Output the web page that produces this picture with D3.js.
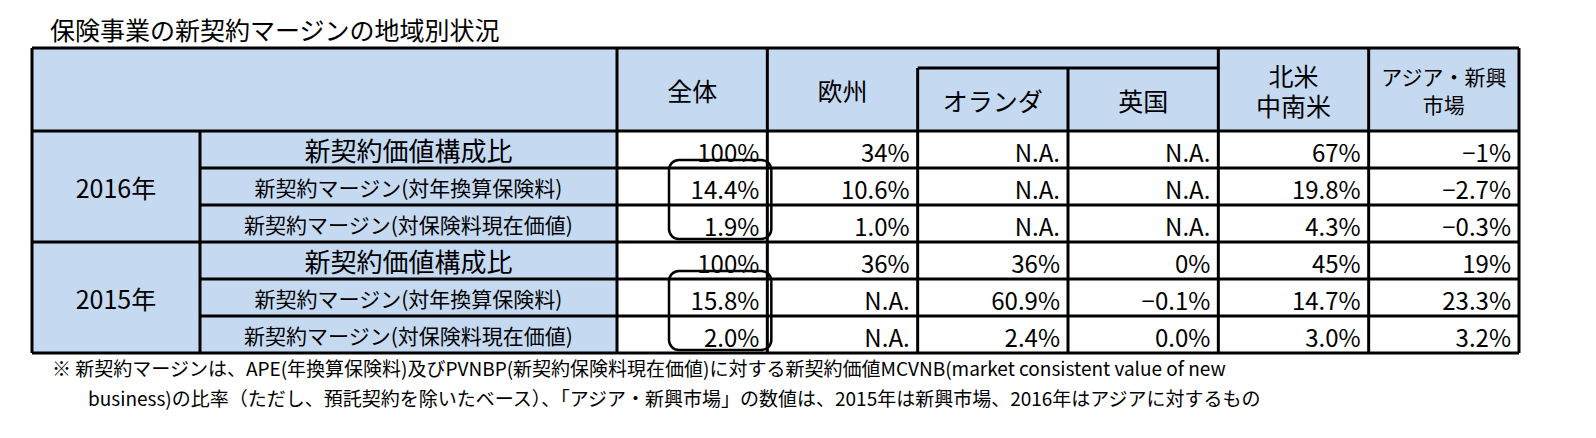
<!DOCTYPE html>
<html lang="ja">
  <head>
    <meta charset="utf-8" />
    <style>
      body { margin: 0; background: #fff; }
      svg text { font-family: "Liberation Sans Narrow", "Noto Sans CJK JP", sans-serif; fill: #000; }
    </style>
  </head>
  <body>
    <svg id="chart" width="1596" height="438"></svg>
    <script src="https://d3js.org/d3.v7.min.js"></script>
    <script>
      const title = "保険事業の新契約マージンの地域別状況";
      const columns = ["全体", "欧州", "オランダ", "英国", "北米\n中南米", "アジア・新興\n市場"];
      const years = ["2016年", "2015年"];
      const rowLabels = ["新契約価値構成比", "新契約マージン(対年換算保険料)", "新契約マージン(対保険料現在価値)"];
      const values2016 = [
        ["100%", "34%", "N.A.", "N.A.", "67%", "−1%"],
        ["14.4%", "10.6%", "N.A.", "N.A.", "19.8%", "−2.7%"],
        ["1.9%", "1.0%", "N.A.", "N.A.", "4.3%", "−0.3%"]
      ];
      const values2015 = [
        ["100%", "36%", "36%", "0%", "45%", "19%"],
        ["15.8%", "N.A.", "60.9%", "−0.1%", "14.7%", "23.3%"],
        ["2.0%", "N.A.", "2.4%", "0.0%", "3.0%", "3.2%"]
      ];
      const notes = [
        "※ 新契約マージンは、APE(年換算保険料)及びPVNBP(新契約保険料現在価値)に対する新契約価値MCVNB(market consistent value of new",
        "business)の比率（ただし、預託契約を除いたベース）、「アジア・新興市場」の数値は、2015年は新興市場、2016年はアジアに対するもの"
      ];

      const svg = d3.select("#chart");
      const blue = "#c5d9f1";
      const left = 32, yearW = 168, labelW = 417, right = 1519;
      const tableTop = 48, headH = 83, rowH = 37;
      const x = d3.scaleBand().domain(d3.range(columns.length)).range([left + yearW + labelW, right]);
      const allRows = [...values2016, ...values2015];
      const y = d3.scaleBand().domain(d3.range(allRows.length)).range([tableTop + headH, tableTop + headH + rowH * 6]);

      svg.append("text").attr("x", 50).attr("y", 40).attr("font-size", 25).text(title);

      svg.append("rect").attr("x", left).attr("y", tableTop).attr("width", right - left).attr("height", headH).attr("fill", blue);
      svg.append("rect").attr("x", left).attr("y", tableTop + headH).attr("width", yearW + labelW).attr("height", rowH * 6).attr("fill", blue);

      const line = (x1, y1, x2, y2, w = 3) =>
        svg.append("line").attr("x1", x1).attr("y1", y1).attr("x2", x2).attr("y2", y2)
          .attr("stroke", "#000").attr("stroke-width", w);

      // header texts
      columns.forEach((c, i) => {
        const lines = c.split("\n");
        const sub = i === 2 || i === 3;
        const cx = x(i) + x.bandwidth() / 2;
        const isAsia = i === 5;
        const fs = isAsia ? 21 : 25;
        const lh = isAsia ? 28 : 30;
        const cy = sub ? tableTop + 20 + (headH - 20) / 2 : tableTop + headH / 2;
        lines.forEach((t, k) => {
          svg.append("text").attr("x", cx).attr("y", cy + (k - (lines.length - 1) / 2) * lh)
            .attr("text-anchor", "middle").attr("dominant-baseline", "central")
            .attr("font-size", fs).text(t);
        });
      });

      // body
      allRows.forEach((row, r) => {
        const ry = y(r) + rowH / 2;
        const isRatio = r % 3 === 0;
        svg.append("text").attr("x", left + yearW + labelW / 2).attr("y", ry)
          .attr("text-anchor", "middle").attr("dominant-baseline", "central")
          .attr("font-size", isRatio ? 26 : 21).text(rowLabels[r % 3]);
        row.forEach((v, i) => {
          svg.append("text").attr("x", x(i) + x.bandwidth() - 8).attr("y", ry + 2)
            .attr("text-anchor", "end").attr("dominant-baseline", "central")
            .attr("font-size", 24).text(v);
        });
      });
      years.forEach((yr, k) => {
        svg.append("text").attr("x", left + yearW / 2).attr("y", y(k * 3) + rowH * 1.5)
          .attr("text-anchor", "middle").attr("dominant-baseline", "central")
          .attr("font-size", 25).text(yr);
      });

      // grid
      const bottom = y(5) + rowH;
      line(left, tableTop, right, tableTop);
      line(x(2), tableTop + 20, x(4), tableTop + 20);
      d3.range(allRows.length + 1).forEach(r => {
        const yy = r === allRows.length ? bottom : y(r);
        const x0 = (r % 3 === 0) ? left : left + yearW;
        line(x0, yy, right, yy);
      });
      line(left, tableTop, left, bottom);
      line(left + yearW, tableTop + headH, left + yearW, bottom);
      d3.range(columns.length).forEach(i => {
        const y0 = (i === 2 || i === 3) ? tableTop + 20 : tableTop;
        line(x(i), y0, x(i), bottom);
      });
      line(right, tableTop, right, bottom);

      // rounded boxes around 全体 margins
      [0, 3].forEach(r => {
        svg.append("rect").attr("x", x(0) + 52).attr("y", y(r) + 29)
          .attr("width", x.bandwidth() - 48).attr("height", rowH * 2 + 5)
          .attr("rx", 10).attr("fill", "none").attr("stroke", "#000").attr("stroke-width", 2.5);
      });

      notes.forEach((n, k) => {
        svg.append("text").attr("x", k === 0 ? 52 : 88).attr("y", 376 + k * 30)
          .attr("font-size", 19).text(n);
      });
    </script>
  </body>
</html>
